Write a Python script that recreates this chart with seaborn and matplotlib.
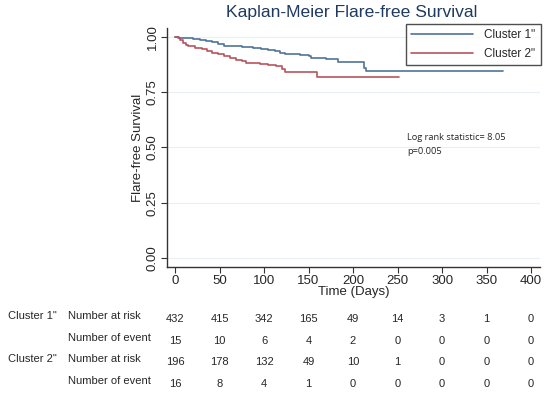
import numpy as np
import pandas as pd
import matplotlib
matplotlib.use("Agg")
import matplotlib.pyplot as plt
import matplotlib.transforms as mtransforms
import seaborn as sns

# ---- data ----
c1_time = [0, 5, 12, 20, 28, 35, 42, 48, 55, 75, 88, 97, 105, 112, 118, 123, 140, 150, 153, 170, 183, 212, 214, 368]
c1_surv = [1.0, 0.997, 0.994, 0.991, 0.987, 0.982, 0.976, 0.970, 0.958, 0.955, 0.950, 0.945, 0.940, 0.935, 0.930,
           0.925, 0.920, 0.915, 0.905, 0.900, 0.887, 0.860, 0.845, 0.845]
c2_time = [0, 3, 6, 9, 12, 15, 22, 30, 36, 42, 48, 55, 62, 68, 75, 80, 95, 105, 113, 120, 123, 159, 252]
c2_surv = [1.0, 0.995, 0.985, 0.975, 0.965, 0.958, 0.952, 0.945, 0.937, 0.930, 0.922, 0.915, 0.905, 0.897,
           0.890, 0.882, 0.878, 0.874, 0.868, 0.855, 0.840, 0.820, 0.820]
cluster_names = ['Cluster 1"', 'Cluster 2"']

table_times = [0, 50, 100, 150, 200, 250, 300, 350, 400]
c1_at_risk = [432, 415, 342, 165, 49, 14, 3, 1, 0]
c1_events = [15, 10, 6, 4, 2, 0, 0, 0, 0]
c2_at_risk = [196, 178, 132, 49, 10, 1, 0, 0, 0]
c2_events = [16, 8, 4, 1, 0, 0, 0, 0, 0]

x_ticks = [0, 50, 100, 150, 200, 250, 300, 350, 400]
y_ticks = [0.00, 0.25, 0.50, 0.75, 1.00]

df = pd.concat([
    pd.DataFrame({"time": c1_time, "surv": c1_surv, "group": cluster_names[0]}),
    pd.DataFrame({"time": c2_time, "surv": c2_surv, "group": cluster_names[1]}),
])

sns.set_style("white")
plt.rcParams['font.family'] = ['Liberation Sans', 'DejaVu Sans']

W, H = 550, 399
fig = plt.figure(figsize=(W / 100, H / 100), dpi=100)
ax = fig.add_axes([167 / W, 1 - 267 / H, 373 / W, (267 - 28) / H])

blue = "#4f7399"
red = "#b8545e"
sns.lineplot(data=df, x="time", y="surv", hue="group", palette=[blue, red],
             estimator=None, drawstyle="steps-post", linewidth=1.2, ax=ax, legend=False)

ax.set_xlim(-9, 410)
ax.set_ylim(-0.041, 1.041)
ax.set_xticks(x_ticks)
ax.set_yticks(y_ticks)
ax.set_xticklabels([str(t) for t in x_ticks], fontsize=9.5)
ax.set_yticklabels([f"{v:.2f}" for v in y_ticks], fontsize=9.5, rotation=90, va="center")
ax.tick_params(axis="both", direction="out", length=4, width=0.8, color="#333333", pad=2, bottom=True, left=True)
ax.yaxis.grid(True, color="#e9eff3", linewidth=0.8)
ax.set_axisbelow(True)
for s in ["top", "right"]:
    ax.spines[s].set_visible(False)
for s in ["left", "bottom"]:
    ax.spines[s].set_color("#333333")
    ax.spines[s].set_linewidth(1.0)

ax.set_xlabel("Time (Days)", fontsize=9.5, labelpad=-1)
ax.set_ylabel("Flare-free Survival", fontsize=9.5, labelpad=2)

fig.text(352 / W, 1 - 13 / H, "Kaplan-Meier Flare-free Survival", ha="center", va="center",
         fontsize=12.6, color="#1f3a60")

# legend
from matplotlib.lines import Line2D
handles = [Line2D([], [], color=blue, lw=1.2), Line2D([], [], color=red, lw=1.2)]
leg = fig.legend(handles, cluster_names, loc="upper right", bbox_to_anchor=(541 / W, 1 - 24 / H),
                 frameon=True, fancybox=False, edgecolor="#222222", fontsize=8.5,
                 handlelength=5.2, borderpad=0.45, labelspacing=0.55, handletextpad=1.0, borderaxespad=0)
leg.get_frame().set_linewidth(1.0)

ax.text(261, 0.545, "Log rank statistic= 8.05", fontsize=6.7, family="Open Sans", va="center")
ax.text(261, 0.482, "p=0.005", fontsize=6.7, family="Open Sans", va="center")

# risk table
trans = mtransforms.blended_transform_factory(ax.transData, fig.transFigure)
rows = [
    (cluster_names[0], "Number at risk", c1_at_risk, 316),
    ("", "Number of event", c1_events, 338),
    (cluster_names[1], "Number at risk", c2_at_risk, 359),
    ("", "Number of event", c2_events, 381),
]
for name, label, vals, ypx in rows:
    yf = 1 - ypx / H
    if name:
        fig.text(8 / W, yf, name, fontsize=8, va="center", ha="left")
    fig.text(68 / W, yf, label, fontsize=8, va="center", ha="left")
    for t, v in zip(table_times, vals):
        ax.text(t, yf - 3 / H, str(v), transform=trans, fontsize=8, ha="center", va="center")

fig.savefig("out.png", dpi=100)
